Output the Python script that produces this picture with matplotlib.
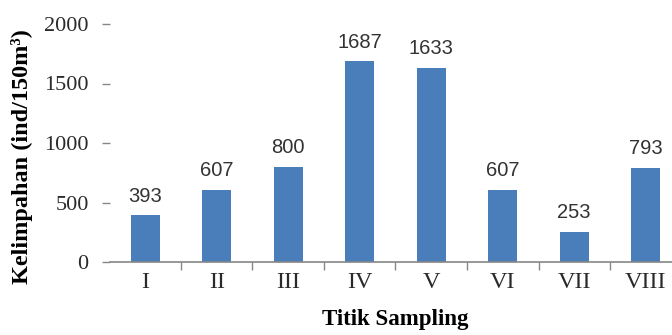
import numpy as np
import matplotlib
matplotlib.use('Agg')
import matplotlib.pyplot as plt
from matplotlib.ticker import FixedLocator

# data
titik = ['I', 'II', 'III', 'IV', 'V', 'VI', 'VII', 'VIII']
kelimpahan = [393, 607, 800, 1687, 1633, 607, 253, 793]
y_ticks = [0, 500, 1000, 1500, 2000]

bar_color = '#4a7ebb'
axis_grey = '#868686'

fig = plt.figure(figsize=(6.72, 3.35), dpi=100)
# the original picture is cropped on the right, so the axes run past the edge
ax = fig.add_axes([109.5/672, 73/335, 572/672, 238/335])

x = np.arange(len(titik))
ax.bar(x, kelimpahan, width=0.41, color=bar_color, zorder=2)

ax.set_xlim(-0.5, len(titik) - 0.5)
ax.set_ylim(0, 2000)

# value labels on top of bars
for xi, v in zip(x, kelimpahan):
    ax.annotate(str(v), (xi, v), xytext=(0, 7), textcoords='offset points',
                ha='center', va='bottom', fontsize=14.5,
                family='Liberation Sans', color='#333333')

# spines
for s in ['top', 'right', 'left']:
    ax.spines[s].set_visible(False)
ax.spines['bottom'].set_color(axis_grey)
ax.spines['bottom'].set_linewidth(1.2)

# x ticks: labels at centres, tick marks between categories
ax.set_xticks(x)
ax.set_xticklabels(titik, family='Liberation Serif', fontsize=17.5, color='#2a2a2a')
ax.xaxis.set_minor_locator(FixedLocator(np.arange(0.5, len(titik) - 1, 1.0)))
ax.tick_params(axis='x', which='major', length=0, pad=7)
ax.tick_params(axis='x', which='minor', length=6, width=1, color=axis_grey)

# y ticks
ax.set_yticks(y_ticks)
ax.set_yticklabels([str(t) for t in y_ticks], family='Liberation Serif',
                   fontsize=16, color='#2a2a2a')
ax.tick_params(axis='y', length=6, width=1, color=axis_grey, pad=9)

ax.set_xlabel('Titik Sampling', family='Liberation Serif', fontweight='bold',
              fontsize=16.5, labelpad=12)
fig.text(22/672, 1 - 157/335, 'Kelimpahan (ind/150m³)', rotation=90,
         ha='center', va='center', family='Liberation Serif',
         fontweight='bold', fontsize=17.5)

fig.savefig('out.png', dpi=100)
